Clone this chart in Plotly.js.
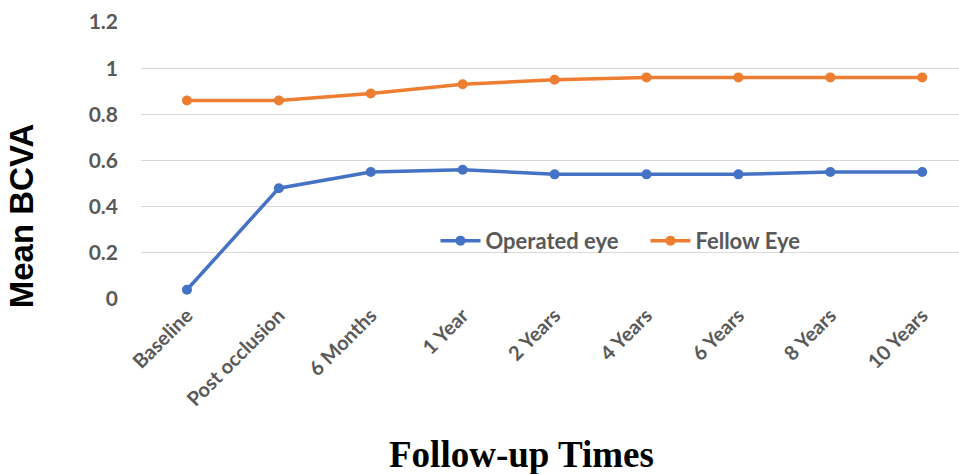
<!DOCTYPE html>
<html><head><meta charset="utf-8">
<script src="https://cdn.plot.ly/plotly-3.0.1.min.js"></script>
<style>html,body{margin:0;padding:0;background:#fff;}#c{width:959px;height:474px;}</style>
</head><body><div id="c"></div>
<script>
const categories = ["Baseline","Post occlusion","6 Months","1 Year","2 Years","4 Years","6 Years","8 Years","10 Years"];
const operatedEye = [0.04,0.48,0.55,0.56,0.54,0.54,0.54,0.55,0.55];
const fellowEye = [0.86,0.86,0.89,0.93,0.95,0.96,0.96,0.96,0.96];
const yTickVals = [0,0.2,0.4,0.6,0.8,1,1.2];
const yTickText = ["0","0.2","0.4","0.6","0.8","1","1.2"];

const idx = categories.map((_,i)=>i);
const traces = [
  {x: idx, y: operatedEye, name: "Operated eye", mode: "lines+markers",
   line:{color:"#4472C4", width:3.5}, marker:{color:"#4472C4", size:10}},
  {x: idx, y: fellowEye, name: "Fellow Eye", mode: "lines+markers",
   line:{color:"#ED7D31", width:3.5}, marker:{color:"#ED7D31", size:10}}
];
const layout = {
  width:959, height:474,
  margin:{l:141, r:0, t:22, b:175},
  paper_bgcolor:"#fff", plot_bgcolor:"#fff",
  showlegend:true,
  legend:{orientation:"h", x:0.36, y:0.21, xanchor:"left", yanchor:"middle",
    font:{family:"Lato, 'Open Sans', sans-serif", size:22, color:"#595959", weight:"bold"},
    bgcolor:"rgba(0,0,0,0)", itemwidth:40, tracegroupgap:0, entrywidth:155, entrywidthmode:"pixels"},
  xaxis:{range:[-0.5,8.4], tickvals: idx, ticktext: categories, tickangle:-45,
    showgrid:false, zeroline:false, showline:false, ticks:"",
    tickfont:{family:"Lato, 'Open Sans', sans-serif", size:20, color:"#595959", weight:"bold"}},
  yaxis:{range:[0,1.2], tickvals:yTickVals, ticktext:yTickText,
    showgrid:true, gridcolor:"#d9d9d9", gridwidth:1.3, zeroline:false, showline:false, ticks:"",
    ticklabelstandoff:22,
    tickfont:{family:"Lato, 'Open Sans', sans-serif", size:21, color:"#595959", weight:"bold"}},
  annotations:[
    {text:"Mean BCVA", xref:"paper", yref:"paper", x:-0.145, y:0.30, textangle:-90,
     showarrow:false, xanchor:"center", yanchor:"middle",
     font:{family:"Liberation Sans, Arial, sans-serif", size:33, color:"#000", weight:"bold"}},
    {text:"Follow-up Times", xref:"paper", yref:"paper", x:0.465, y:-0.56, showarrow:false,
     xanchor:"center", yanchor:"middle",
     font:{family:"Liberation Serif, 'Times New Roman', serif", size:37, color:"#000", weight:"bold"}}
  ]
};
Plotly.newPlot("c", traces, layout, {displayModeBar:false, staticPlot:true});
</script>
</body></html>
